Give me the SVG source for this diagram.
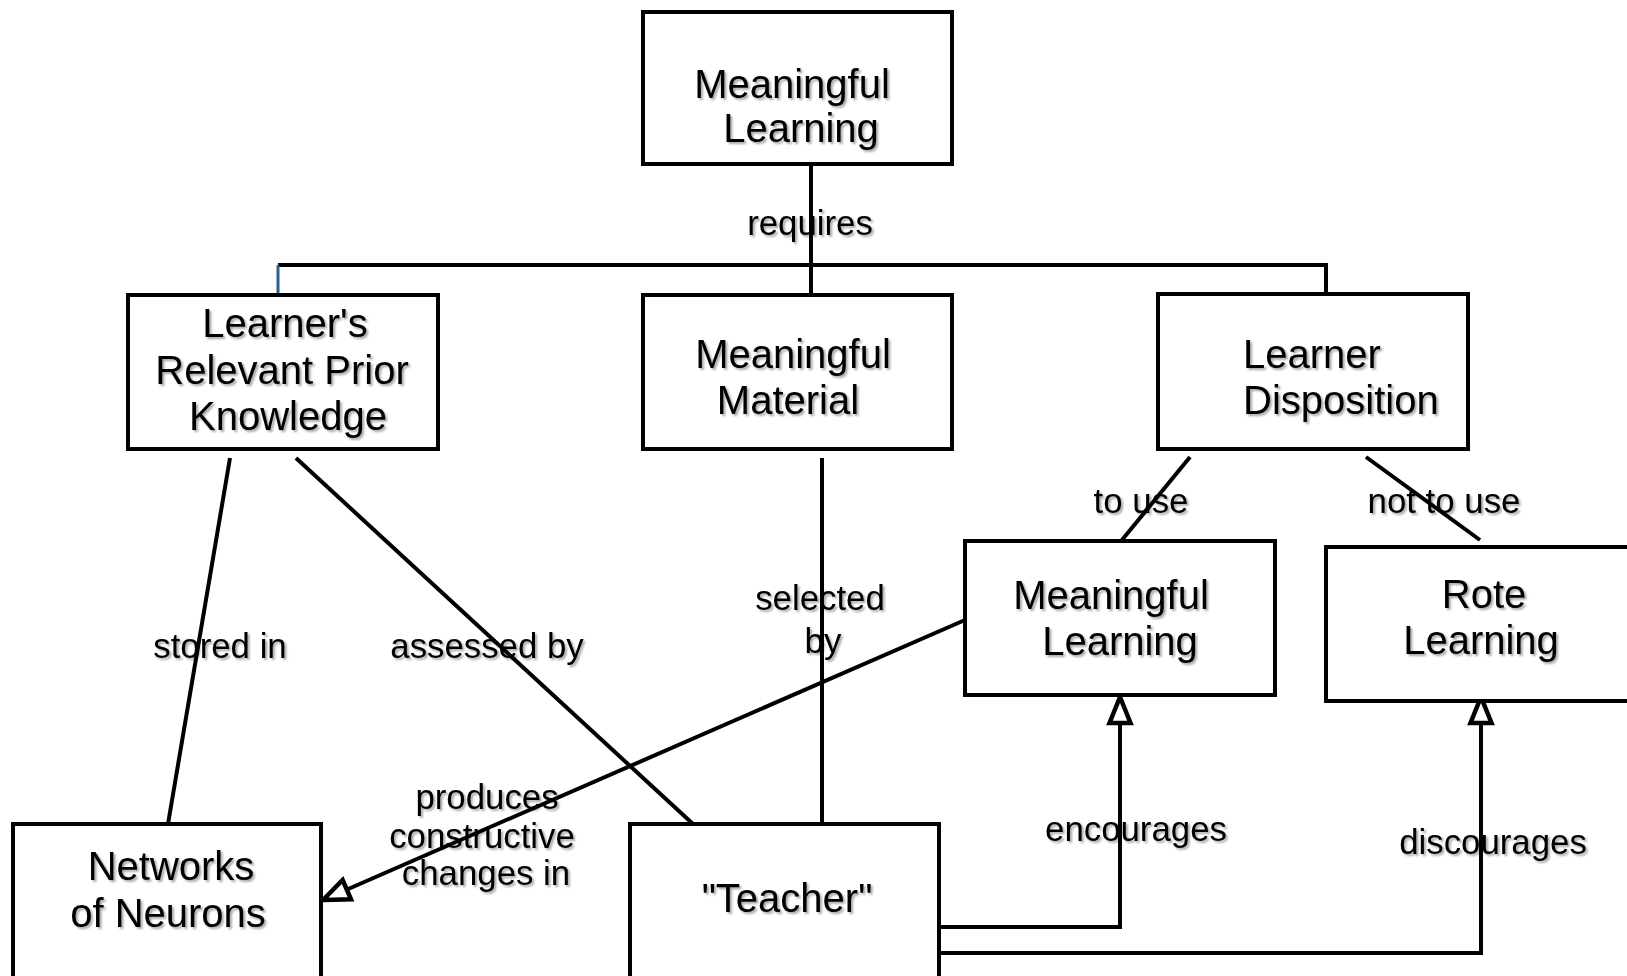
<svg xmlns="http://www.w3.org/2000/svg" width="1627" height="976" viewBox="0 0 1627 976">
<defs>
<filter id="sh" x="-10%" y="-20%" width="130%" height="150%">
<feDropShadow dx="2" dy="2" stdDeviation="1" flood-color="#000" flood-opacity="0.35"/>
</filter>
<marker id="tri" viewBox="-32 -16 36 32" refX="0" refY="0" markerWidth="36" markerHeight="32" markerUnits="userSpaceOnUse" orient="auto">
<path d="M0,0 L-26,-10.5 L-26,10.5 Z" fill="#fff" stroke="#000" stroke-width="4.5" stroke-linejoin="miter"/>
</marker>
<style>
.box{fill:#fff;stroke:#000;stroke-width:4}
.nt{font-family:"Liberation Sans",Arial,sans-serif;font-size:40px;fill:#000;text-anchor:middle;filter:url(#sh)}
.lt{font-family:"Liberation Sans",Arial,sans-serif;font-size:34.8px;fill:#000;text-anchor:middle;filter:url(#sh)}
.ln{fill:none;stroke:#000;stroke-width:4}
</style>
</defs>
<rect width="1627" height="976" fill="#fff"/>
<g id="connectors">
<path class="ln" d="M811,164 V295"/>
<path class="ln" d="M278,265 H1326 V294"/>
<path d="M278,265 V297" stroke="#2f5f8f" stroke-width="3" fill="none"/>
<path class="ln" d="M230,458 L168,824"/>
<path class="ln" d="M296,458 L693,824"/>
<path class="ln" d="M822,458 V824"/>
<path class="ln" d="M1190,457 L1122,540"/>
<path class="ln" d="M1366,457 L1480,540"/>
<path class="ln" d="M965,620 L323,900" marker-end="url(#tri)"/>
<path class="ln" d="M939,927 H1120 V697" marker-end="url(#tri)"/>
<path class="ln" d="M939,953 H1481 V697" marker-end="url(#tri)"/>
<text class="lt" x="810" y="235">requires</text>
<text class="lt" x="220" y="658">stored in</text>
<text class="lt" x="487" y="658">assessed by</text>
<text class="lt" x="820" y="610">selected</text>
<text class="lt" x="823" y="653">by</text>
<text class="lt" x="1141" y="513">to use</text>
<text class="lt" x="1444" y="513">not to use</text>
<text class="lt" x="487" y="809">produces</text>
<text class="lt" x="482" y="848">constructive</text>
<text class="lt" x="486" y="885">changes in</text>
<text class="lt" x="1136" y="841">encourages</text>
<text class="lt" x="1493" y="854">discourages</text>
</g>
<g id="n-meaningful-learning-top">
<rect class="box" x="643" y="12" width="309" height="152"/>
<text class="nt" x="792" y="98">Meaningful</text>
<text class="nt" x="801" y="142">Learning</text>
</g>
<g id="n-prior-knowledge">
<rect class="box" x="128" y="295" width="310" height="154"/>
<text class="nt" x="285" y="337">Learner's</text>
<text class="nt" x="282" y="384">Relevant Prior</text>
<text class="nt" x="288" y="430">Knowledge</text>
</g>
<g id="n-meaningful-material">
<rect class="box" x="643" y="295" width="309" height="154"/>
<text class="nt" x="793" y="368">Meaningful</text>
<text class="nt" x="788" y="414">Material</text>
</g>
<g id="n-learner-disposition">
<rect class="box" x="1158" y="294" width="310" height="155"/>
<text class="nt" x="1243" y="368" style="text-anchor:start">Learner</text>
<text class="nt" x="1243" y="414" style="text-anchor:start">Disposition</text>
</g>
<g id="n-meaningful-learning">
<rect class="box" x="965" y="541" width="310" height="154"/>
<text class="nt" x="1111" y="609">Meaningful</text>
<text class="nt" x="1120" y="655">Learning</text>
</g>
<g id="n-rote-learning">
<rect class="box" x="1326" y="547" width="310" height="154"/>
<text class="nt" x="1484" y="608">Rote</text>
<text class="nt" x="1481" y="654">Learning</text>
</g>
<g id="n-networks">
<rect class="box" x="13" y="824" width="308" height="170"/>
<text class="nt" x="171" y="880">Networks</text>
<text class="nt" x="168" y="927">of Neurons</text>
</g>
<g id="n-teacher">
<rect class="box" x="630" y="824" width="309" height="170"/>
<text class="nt" x="787" y="912">"Teacher"</text>
</g>
</svg>
